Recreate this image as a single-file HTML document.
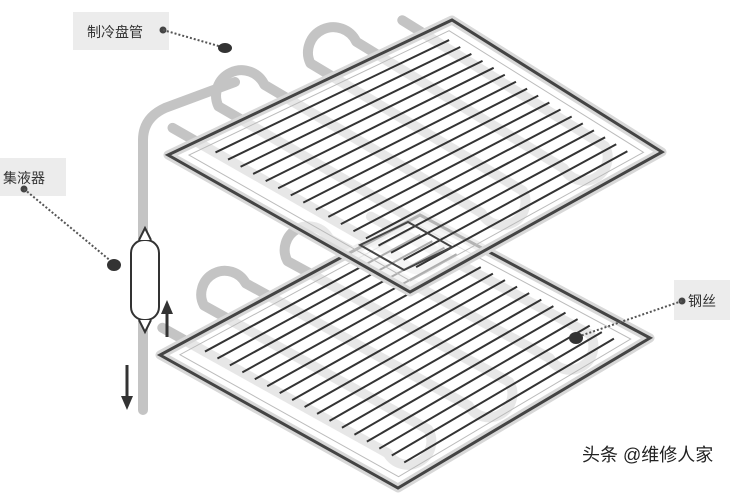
<!DOCTYPE html>
<html><head><meta charset="utf-8"><style>
html,body{margin:0;padding:0;background:#fff;width:730px;height:501px;overflow:hidden}
.lb{font-family:"Liberation Sans","Noto Sans CJK SC",sans-serif;}
</style></head><body>
<svg id="s" width="730" height="501" viewBox="0 0 730 501" xmlns="http://www.w3.org/2000/svg">
<g id="pipes" fill="none" stroke="#c4c4c4" stroke-width="10" stroke-linecap="round" stroke-linejoin="round"></g>
<path d="M143,410 L143,140 Q143,118 165,108 L235,82" fill="none" stroke="#c4c4c4" stroke-width="10" stroke-linecap="round"/>
<rect x="131" y="240" width="28" height="80" rx="13" fill="#fff" stroke="#333" stroke-width="2"/>
<path d="M139,240 L145,228 L151,240 M139,320 L145,332 L151,320" fill="#fff" stroke="#333" stroke-width="2"/>
<g id="plates"></g>
<path d="M167,337 L167,312" stroke="#333" stroke-width="3"/>
<path d="M161,314 L167,300 L173,314 Z" fill="#333"/>
<path d="M127,365 L127,398" stroke="#333" stroke-width="3"/>
<path d="M121,396 L127,410 L133,396 Z" fill="#333"/>
<rect x="73" y="12" width="96" height="38" fill="#ececec"/>
<text x="87" y="37" class="lb" font-size="14" fill="#333">制冷盘管</text>
<circle cx="163" cy="30" r="3.5" fill="#444"/>
<path d="M163,30 L222,47" stroke="#555" stroke-width="2" stroke-dasharray="2,2"/>
<ellipse cx="225" cy="48" rx="7" ry="5" fill="#333"/>
<rect x="0" y="158" width="66" height="38" fill="#ececec"/>
<text x="3" y="183" class="lb" font-size="14" fill="#333">集液器</text>
<circle cx="24" cy="189" r="3.5" fill="#444"/>
<path d="M24,189 L112,262" stroke="#555" stroke-width="2" stroke-dasharray="2,2"/>
<ellipse cx="114" cy="265" rx="7" ry="6" fill="#333"/>
<rect x="674" y="280" width="56" height="40" fill="#ececec"/>
<text x="688" y="306" class="lb" font-size="14" fill="#333">钢丝</text>
<circle cx="682" cy="301" r="3.5" fill="#444"/>
<path d="M682,301 L580,336" stroke="#555" stroke-width="2" stroke-dasharray="2,2"/>
<ellipse cx="576" cy="338" rx="7" ry="6" fill="#333"/>
<text x="582" y="461" class="lb" font-size="18" fill="#222">头条 @维修人家</text>
</svg>
<script>
var NS="http://www.w3.org/2000/svg",s=document.getElementById("s");
var P=document.getElementById("plates"),G=document.getElementById("pipes");
function el(p,t,a){var e=document.createElementNS(NS,t);for(var k in a)e.setAttribute(k,a[k]);p.appendChild(e);return e;}
function mk(L,B,R,T){return function(u,v){
 var x=(1-u)*(1-v)*L[0]+u*(1-v)*B[0]+u*v*R[0]+(1-u)*v*T[0];
 var y=(1-u)*(1-v)*L[1]+u*(1-v)*B[1]+u*v*R[1]+(1-u)*v*T[1];return [x,y];};}
function plate(L,B,R,T,n,np){
 var f=mk(L,B,R,T);
 var d="",prev=null;
 for(var i=0;i<np;i++){
  var v=0.1+i*0.8/(np-1);
  var a=f(-0.1,v),b=f(0.85,v);
  if(i==0){d+="M"+a[0]+","+a[1]+" L"+b[0]+","+b[1];}
  else if(i%2==1){var r=Math.hypot(b[0]-prev[0],b[1]-prev[1])/2;d+=" A"+r+","+r+" 0 0 0 "+b[0]+","+b[1]+" L"+a[0]+","+a[1];prev=a;continue;}
  else{var r=Math.hypot(a[0]-prev[0],a[1]-prev[1])/2;d+=" A"+r+","+r+" 0 0 1 "+a[0]+","+a[1]+" L"+b[0]+","+b[1];}
  prev=b;
 }
 el(G,"path",{d:d});
 var pts=[L,B,R,T].map(function(p){return p.join(",")}).join(" ");
 el(P,"polygon",{points:pts,fill:"rgba(255,255,255,0.6)",stroke:"#d8d8d8","stroke-width":"9","stroke-linejoin":"round"});
 el(P,"polygon",{points:pts,fill:"none",stroke:"#444","stroke-width":"3"});
 var q=[f(0.04,0.04),f(0.96,0.04),f(0.96,0.96),f(0.04,0.96)];
 el(P,"polygon",{points:q.map(function(p){return p.join(",")}).join(" "),fill:"none",stroke:"#bbb","stroke-width":"1"});
 for(var j=1;j<=n;j++){
  var u=0.08+(j-1)*0.84/(n-1);
  var a=f(u,0.1),b=f(u,0.93);
  el(P,"line",{x1:a[0],y1:a[1],x2:b[0],y2:b[1],stroke:"#333","stroke-width":"2"});
 }
}
plate([160,355],[398,488],[650,338],[420,215],17,6);
plate([168,155],[410,292],[662,152],[452,20],17,6);
el(P,"polygon",{points:"360,245 408,222 452,247 404,270",fill:"none",stroke:"#444","stroke-width":"2"});
</script>
</body></html>
